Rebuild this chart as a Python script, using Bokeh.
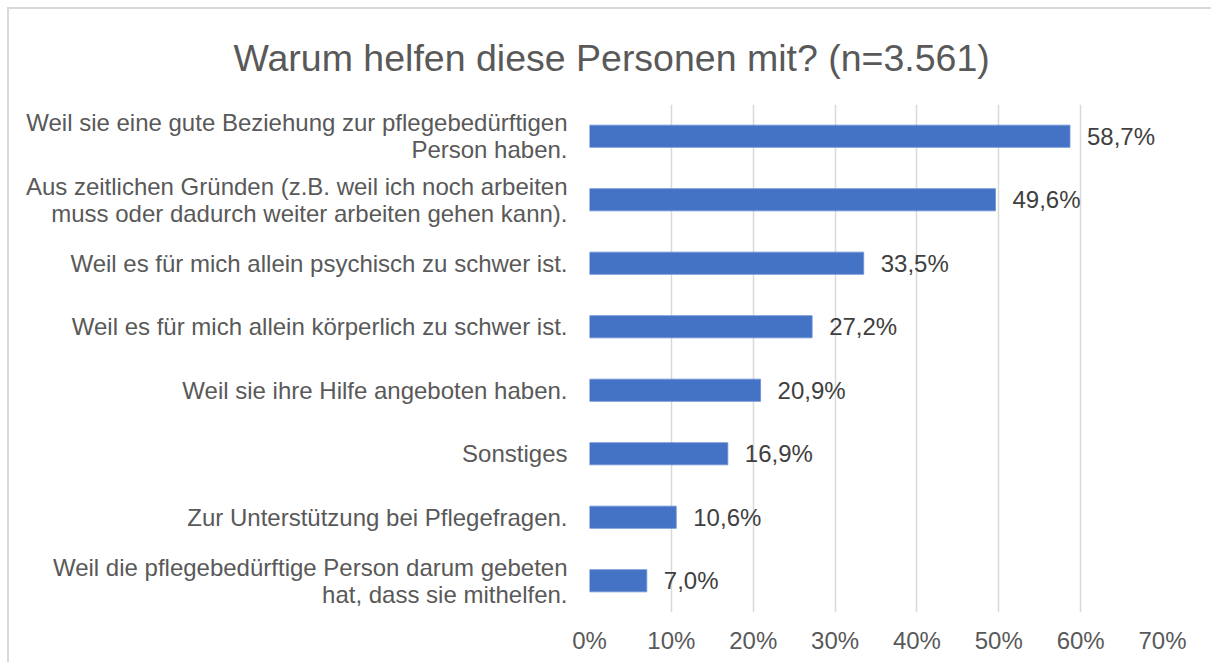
from bokeh.plotting import figure
from bokeh.models import ColumnDataSource, FactorRange, Range1d, FixedTicker, PrintfTickFormatter
from bokeh.core.properties import value
from bokeh.embed import file_html
from bokeh.resources import INLINE

title_text = "Warum helfen diese Personen mit? (n=3.561)"
categories = [
    "Weil sie eine gute Beziehung zur pflegebedürftigen\nPerson haben.",
    "Aus zeitlichen Gründen (z.B. weil ich noch arbeiten\nmuss oder dadurch weiter arbeiten gehen kann).",
    "Weil es für mich allein psychisch zu schwer ist.",
    "Weil es für mich allein körperlich zu schwer ist.",
    "Weil sie ihre Hilfe angeboten haben.",
    "Sonstiges",
    "Zur Unterstützung bei Pflegefragen.",
    "Weil die pflegebedürftige Person darum gebeten\nhat, dass sie mithelfen.",
]
values = [58.7, 49.6, 33.5, 27.2, 20.9, 16.9, 10.6, 7.0]
value_labels = ["58,7%", "49,6%", "33,5%", "27,2%", "20,9%", "16,9%", "10,6%", "7,0%"]
x_ticks = [0, 10, 20, 30, 40, 50, 60, 70]

FONT = "Liberation Sans"
GREY = "#595959"

src = ColumnDataSource(dict(cat=categories, val=values, lab=value_labels))

p = figure(
    width=1204, height=655,
    y_range=FactorRange(factors=list(reversed(categories)), range_padding=0),
    x_range=Range1d(0, 70),
    output_backend="svg", toolbar_location=None,
    min_border_left=580, min_border_right=51, min_border_top=95, min_border_bottom=52,
)
p.styles = {"border-top": "2px solid #d9d9d9", "border-left": "2px solid #d9d9d9",
            "border-right": "none", "border-bottom": "none",
            "margin-left": "7px", "margin-top": "7px"}
p.outline_line_color = None
p.background_fill_color = "white"
p.border_fill_color = "white"

p.title.text = title_text
p.title.text_font = FONT
p.title.text_font_size = "37.5px"
p.title.text_font_style = "normal"
p.title.text_color = GREY
p.title.align = "left"
p.title.offset = -356
p.title.standoff = 51

p.hbar(y="cat", right="val", left=0, height=0.35, source=src,
       fill_color="#4472C4", line_color="#6f93d6", line_width=0.8)

p.text(x="val", y="cat", text="lab", source=src, x_offset=17,
       text_align="left", text_baseline="middle",
       text_font=value(FONT), text_font_size="24px", text_color="#404040")

p.xgrid.ticker = FixedTicker(ticks=x_ticks)
p.xgrid.grid_line_color = "#d9d9d9"
p.xgrid.grid_line_width = 1.5
p.ygrid.grid_line_color = None

xa = p.xaxis[0]
xa.ticker = FixedTicker(ticks=x_ticks)
xa.formatter = PrintfTickFormatter(format="%d%%")
xa.axis_line_color = None
xa.major_tick_line_color = None
xa.minor_tick_line_color = None
xa.major_label_text_font = FONT
xa.major_label_text_font_size = "24px"
xa.major_label_text_color = GREY
xa.major_label_standoff = 8

ya = p.yaxis[0]
ya.axis_line_color = None
ya.major_tick_line_color = None
ya.minor_tick_line_color = None
ya.major_label_text_font = FONT
ya.major_label_text_font_size = "24px"
ya.major_label_text_color = GREY
ya.major_label_text_align = "center"
ya.major_label_text_line_height = 1.0
ya.major_label_standoff = 16

open("out.html", "w").write(file_html(p, INLINE))
